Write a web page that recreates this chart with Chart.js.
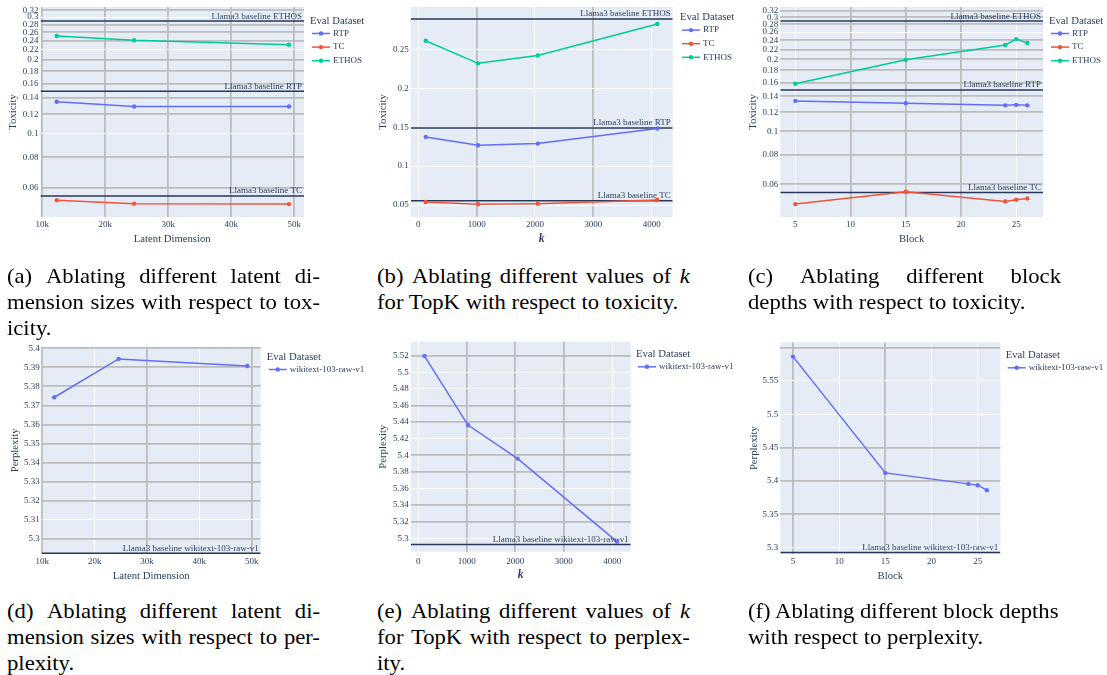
<!DOCTYPE html>
<html><head><meta charset="utf-8">
<script src="https://cdn.jsdelivr.net/npm/chart.js@4.4.1/dist/chart.umd.min.js"></script>
<style>
body{margin:0;background:#fff;}
#wrap{position:relative;width:1107px;height:675px;overflow:hidden;background:#fff;}
canvas{position:absolute;}
.cap{position:absolute;width:299.5px;font-family:'Liberation Serif','Times New Roman',serif;font-size:21.7px;line-height:26px;color:#000;transform:scaleX(1.045);transform-origin:0 0;}
.cap .ln{white-space:nowrap;}
.cap .jl{display:flex;justify-content:space-between;white-space:nowrap;}
</style></head>
<body><div id="wrap"></div>
<script>
// ---------------- data ----------------
const latentDims = [12288, 24576, 49152];
const latentRTP = [0.135, 0.129, 0.129];
const latentTC = [0.0533, 0.0516, 0.0514];
const latentETHOS = [0.251, 0.241, 0.231];

const topKValues = [128, 1024, 2048, 4096];
const topkRTP = [0.1375, 0.1268, 0.1289, 0.1483];
const topkTC = [0.0539, 0.0509, 0.0517, 0.0564];
const topkETHOS = [0.261, 0.232, 0.242, 0.2825];

const blocks = [5, 15, 24, 25, 26];
const blockRTP = [0.134, 0.131, 0.1284, 0.129, 0.1284];
const blockTC = [0.0496, 0.0559, 0.0509, 0.0517, 0.0524];
const blockETHOS = [0.158, 0.199, 0.2296, 0.243, 0.234];

const baselineRTP = 0.149;
const baselineTC = 0.0555;
const baselineETHOS = 0.289;

const latentPerplexity = [5.3743, 5.3944, 5.3907];
const topkPerplexity = [5.5196, 5.4365, 5.396, 5.296];
const blockPerplexity = [5.5866, 5.412, 5.3955, 5.3935, 5.386];
const baselinePerplexity = 5.2925;

// tick values and labels
const latentTicks = [10000, 20000, 30000, 40000, 50000];
const latentTickLabels = ['10k', '20k', '30k', '40k', '50k'];
const kTicks = [0, 1000, 2000, 3000, 4000];
const kTickLabels = ['0', '1000', '2000', '3000', '4000'];
const blockTicks = [5, 10, 15, 20, 25];
const blockTickLabels = ['5', '10', '15', '20', '25'];
const toxLogTicks = [0.06, 0.08, 0.1, 0.12, 0.14, 0.16, 0.18, 0.2, 0.22, 0.24, 0.26, 0.28, 0.3, 0.32];
const toxLogTickLabels = ['0.06', '0.08', '0.1', '0.12', '0.14', '0.16', '0.18', '0.2', '0.22', '0.24', '0.26', '0.28', '0.3', '0.32'];
const toxLinTicks = [0.05, 0.1, 0.15, 0.2, 0.25];
const toxLinTickLabels = ['0.05', '0.1', '0.15', '0.2', '0.25'];
const pplLatentTicks = [5.3, 5.31, 5.32, 5.33, 5.34, 5.35, 5.36, 5.37, 5.38, 5.39, 5.4];
const pplLatentTickLabels = ['5.3', '5.31', '5.32', '5.33', '5.34', '5.35', '5.36', '5.37', '5.38', '5.39', '5.4'];
const pplTopkTicks = [5.3, 5.32, 5.34, 5.36, 5.38, 5.4, 5.42, 5.44, 5.46, 5.48, 5.5, 5.52];
const pplTopkTickLabels = ['5.3', '5.32', '5.34', '5.36', '5.38', '5.4', '5.42', '5.44', '5.46', '5.48', '5.5', '5.52'];
const pplBlockTicks = [5.3, 5.35, 5.4, 5.45, 5.5, 5.55, 5.6];
const pplBlockTickLabels = ['5.3', '5.35', '5.4', '5.45', '5.5', '5.55', ''];

// ---------------- styling / helpers ----------------
const FONT = "'Liberation Serif','Times New Roman',serif";
Chart.defaults.font.family = FONT;
const FONT_COLOR = '#2a3f5f';
const C_RTP = '#636efa', C_TC = '#EF553B', C_ETHOS = '#00cc96';
const GRAY = '#bdbdbd', WHITE = '#ffffff', BASE_COLOR = '#27385a';
const wrap = document.getElementById('wrap');

function isIn(list, v){ return v !== undefined && list.some(g => Math.abs(g - v) < 1e-9); }

function series(label, xs, ys, color){
  return {label, data: xs.map((x, i) => ({x, y: ys[i]})), borderColor: color, backgroundColor: color,
    pointBackgroundColor: color, pointBorderColor: color, pointRadius: 2.2, pointBorderWidth: 0,
    borderWidth: 1.5, tension: 0, order: 0};
}
function baseline(label, y, xmin, xmax){
  return {label, isBaseline: true, data: [{x: xmin, y}, {x: xmax, y}], borderColor: BASE_COLOR,
    backgroundColor: BASE_COLOR, borderWidth: 1.5, pointRadius: 0, order: 5};
}

const bgPlugin = {id: 'plotBg', beforeDraw(chart){
  const {ctx, chartArea: a} = chart; ctx.save(); ctx.fillStyle = '#E5ECF6';
  ctx.fillRect(a.left, a.top, a.right - a.left, a.bottom - a.top); ctx.restore(); }};

const baseLabelPlugin = {id: 'baseLabels', afterDatasetsDraw(chart){
  const {ctx, chartArea: a} = chart; const y = chart.scales.y;
  ctx.save(); ctx.font = '9px ' + FONT; ctx.fillStyle = FONT_COLOR; ctx.textAlign = 'right'; ctx.textBaseline = 'alphabetic';
  chart.data.datasets.forEach(ds => { if (!ds.isBaseline) return;
    const py = y.getPixelForValue(ds.data[0].y); ctx.fillText(ds.label, a.right - 2, py - 2.5); });
  ctx.restore(); }};

const legendPlugin = {id: 'plotlyLegend', afterDraw(chart, args, o){
  const {ctx, chartArea: a} = chart; const x0 = a.right + o.dx;
  ctx.save(); ctx.fillStyle = FONT_COLOR; ctx.textAlign = 'left'; ctx.textBaseline = 'middle';
  ctx.font = '10.7px ' + FONT; ctx.fillText('Eval Dataset', x0, o.titleY);
  ctx.font = '9px ' + FONT;
  let i = 0;
  chart.data.datasets.forEach(ds => { if (ds.isBaseline) return;
    const yy = o.titleY + 12.8 + i * 13.6; i++;
    ctx.strokeStyle = ds.borderColor; ctx.lineWidth = 1.5;
    ctx.beginPath(); ctx.moveTo(x0 + 2, yy); ctx.lineTo(x0 + 20, yy); ctx.stroke();
    ctx.fillStyle = ds.borderColor; ctx.beginPath(); ctx.arc(x0 + 11, yy, 2.2, 0, Math.PI * 2); ctx.fill();
    ctx.fillStyle = FONT_COLOR; ctx.fillText(ds.label, x0 + 23, yy); });
  ctx.restore(); }};

function makeChart(s){
  const cv = document.createElement('canvas');
  cv.width = s.w; cv.height = s.h;
  cv.style.left = s.left + 'px'; cv.style.top = s.top + 'px';
  cv.style.width = s.w + 'px'; cv.style.height = s.h + 'px';
  wrap.appendChild(cv);
  const lh = 10.7 * 1.2;
  const yW = s.plotL - s.left, xH = s.top + s.h - s.plotB;
  const gridOf = gray => ({drawTicks: false,
    color: c => isIn(gray, c.tick && c.tick.value) ? GRAY : WHITE,
    lineWidth: c => isIn(gray, c.tick && c.tick.value) ? 1.8 : 1});
  new Chart(cv, {type: 'line', data: {datasets: s.datasets}, options: {
    responsive: false, devicePixelRatio: 1, animation: false, events: [],
    layout: {padding: {left: 0, top: s.plotT - s.top, right: s.left + s.w - s.plotR, bottom: 0}},
    plugins: {legend: {display: false}, tooltip: {enabled: false}, plotlyLegend: s.legend},
    scales: {
      x: {type: 'linear', min: s.x.min, max: s.x.max, grid: gridOf(s.x.gray), border: {display: false},
        ticks: {padding: s.xTickC - s.plotB - 5.4, font: {size: 9}, color: FONT_COLOR, maxRotation: 0, autoSkip: false,
          callback: (v, i) => s.x.labels[i]},
        afterBuildTicks: sc => { sc.ticks = s.x.ticks.map(v => ({value: v})); },
        afterFit: sc => { sc.height = xH; sc.paddingLeft = 0; sc.paddingRight = 0; sc.paddingTop = 0; sc.paddingBottom = 0; },
        title: {display: true, text: s.x.title, color: FONT_COLOR, font: s.x.titleFont || {size: 10.7},
          padding: {top: 0, bottom: s.top + s.h - s.xTitleC - lh / 2}}},
      y: {type: s.y.type, min: s.y.min, max: s.y.max, grid: gridOf(s.y.gray), border: {display: false},
        ticks: {padding: 2, font: {size: 9}, color: FONT_COLOR, autoSkip: false, callback: (v, i) => s.y.labels[i]},
        afterBuildTicks: sc => { sc.ticks = s.y.ticks.map(v => ({value: v})); },
        afterFit: sc => { sc.width = yW; sc.paddingLeft = 0; sc.paddingRight = 0; sc.paddingTop = 0; sc.paddingBottom = 0; },
        title: {display: true, text: s.y.title, color: FONT_COLOR, font: {size: 10.7},
          padding: {top: s.yTitleX - s.left - lh / 2, bottom: 0}}}
    }}, plugins: [bgPlugin, baseLabelPlugin, legendPlugin]});
}

const kFont = {size: 11.5, style: 'italic', weight: 'bold'};

// (a)
makeChart({left: 0, top: 0, w: 370, h: 250, plotL: 40.5, plotR: 304, plotT: 7, plotB: 217, xTickC: 225, xTitleC: 239.3, yTitleX: 13,
  legend: {dx: 6, titleY: 20.7},
  x: {min: 9714, max: 51540, ticks: latentTicks, labels: latentTickLabels, title: 'Latent Dimension', gray: latentTicks},
  y: {type: 'logarithmic', min: 0.0455, max: 0.33, ticks: toxLogTicks, labels: toxLogTickLabels, title: 'Toxicity',
      gray: [0.06, 0.08, 0.12, 0.14, 0.16, 0.18, 0.2, 0.24, 0.26, 0.28, 0.32]},
  datasets: [series('RTP', latentDims, latentRTP, C_RTP), series('TC', latentDims, latentTC, C_TC), series('ETHOS', latentDims, latentETHOS, C_ETHOS),
    baseline('Llama3 baseline ETHOS', baselineETHOS, 9714, 51540), baseline('Llama3 baseline RTP', baselineRTP, 9714, 51540), baseline('Llama3 baseline TC', baselineTC, 9714, 51540)]});

// (b)
makeChart({left: 370, top: 0, w: 370, h: 250, plotL: 410.7, plotR: 672.7, plotT: 7, plotB: 217, xTickC: 225, xTitleC: 239.3, yTitleX: 383.3,
  legend: {dx: 7.3, titleY: 17.3},
  x: {min: -130, max: 4360, ticks: kTicks, labels: kTickLabels, title: 'k', titleFont: kFont, gray: [1000, 3000]},
  y: {type: 'linear', min: 0.0346, max: 0.3044, ticks: toxLinTicks, labels: toxLinTickLabels, title: 'Toxicity', gray: []},
  datasets: [series('RTP', topKValues, topkRTP, C_RTP), series('TC', topKValues, topkTC, C_TC), series('ETHOS', topKValues, topkETHOS, C_ETHOS),
    baseline('Llama3 baseline ETHOS', baselineETHOS, -130, 4360), baseline('Llama3 baseline RTP', baselineRTP, -130, 4360), baseline('Llama3 baseline TC', baselineTC, -130, 4360)]});

// (c)
makeChart({left: 737, top: 0, w: 370, h: 250, plotL: 780.3, plotR: 1043, plotT: 7, plotB: 217, xTickC: 225, xTitleC: 239.3, yTitleX: 753,
  legend: {dx: 6, titleY: 20.7},
  x: {min: 3.64, max: 27.42, ticks: blockTicks, labels: blockTickLabels, title: 'Block', gray: [10, 15, 20]},
  y: {type: 'logarithmic', min: 0.0438, max: 0.331, ticks: toxLogTicks, labels: toxLogTickLabels, title: 'Toxicity',
      gray: [0.06, 0.08, 0.1, 0.12, 0.14, 0.16, 0.18, 0.2, 0.22, 0.24, 0.28, 0.3, 0.32]},
  datasets: [series('RTP', blocks, blockRTP, C_RTP), series('TC', blocks, blockTC, C_TC), series('ETHOS', blocks, blockETHOS, C_ETHOS),
    baseline('Llama3 baseline ETHOS', baselineETHOS, 3.64, 27.42), baseline('Llama3 baseline RTP', baselineRTP, 3.64, 27.42), baseline('Llama3 baseline TC', baselineTC, 3.64, 27.42)]});

// (d)
makeChart({left: 0, top: 335, w: 370, h: 250, plotL: 41.7, plotR: 260.7, plotT: 346.7, plotB: 554, xTickC: 561.7, xTitleC: 575.7, yTitleX: 15,
  legend: {dx: 6, titleY: 21.7},
  x: {min: 9885, max: 51719, ticks: latentTicks, labels: latentTickLabels, title: 'Latent Dimension', gray: [10000, 30000, 50000]},
  y: {type: 'linear', min: 5.2921, max: 5.4008, ticks: pplLatentTicks, labels: pplLatentTickLabels, title: 'Perplexity',
      gray: [5.3, 5.32, 5.33, 5.34, 5.35, 5.36, 5.37, 5.38, 5.39, 5.4]},
  datasets: [series('wikitext-103-raw-v1', latentDims, latentPerplexity, C_RTP),
    baseline('Llama3 baseline wikitext-103-raw-v1', baselinePerplexity, 9885, 51719)]});

// (e)
makeChart({left: 370, top: 335, w: 370, h: 250, plotL: 410.7, plotR: 630.7, plotT: 341.7, plotB: 551.7, xTickC: 561.7, xTitleC: 575.7, yTitleX: 383.3,
  legend: {dx: 5.3, titleY: 19},
  x: {min: -157, max: 4379, ticks: kTicks, labels: kTickLabels, title: 'k', titleFont: kFont, gray: [1000, 2000, 3000]},
  y: {type: 'linear', min: 5.2839, max: 5.5369, ticks: pplTopkTicks, labels: pplTopkTickLabels, title: 'Perplexity',
      gray: [5.32, 5.34, 5.38, 5.4, 5.44, 5.46, 5.52]},
  datasets: [series('wikitext-103-raw-v1', topKValues, topkPerplexity, C_RTP),
    baseline('Llama3 baseline wikitext-103-raw-v1', baselinePerplexity, -157, 4379)]});

// (f)
makeChart({left: 737, top: 335, w: 370, h: 250, plotL: 780.3, plotR: 1000.3, plotT: 342.3, plotB: 554, xTickC: 562, xTitleC: 575.7, yTitleX: 753.7,
  legend: {dx: 5.4, titleY: 20},
  x: {min: 3.625, max: 27.45, ticks: blockTicks, labels: blockTickLabels, title: 'Block', gray: [5, 15]},
  y: {type: 'linear', min: 5.2902, max: 5.6081, ticks: pplBlockTicks, labels: pplBlockTickLabels, title: 'Perplexity',
      gray: [5.35, 5.4, 5.45, 5.6]},
  datasets: [series('wikitext-103-raw-v1', blocks, blockPerplexity, C_RTP),
    baseline('Llama3 baseline wikitext-103-raw-v1', baselinePerplexity, 3.625, 27.45)]});

// ---------------- captions ----------------
const captions = [
  {x: 6.5, y: 263, lines: [['(a) Ablating different latent di-', true], ['mension sizes with respect to tox-', true], ['icity.', false]]},
  {x: 376.5, y: 263, lines: [['(b) Ablating different values of <i>k</i>', true], ['for TopK with respect to toxicity.', false]]},
  {x: 748, y: 263, lines: [['(c) Ablating different block', true], ['depths with respect to toxicity.', false]]},
  {x: 6.5, y: 598, lines: [['(d) Ablating different latent di-', true], ['mension sizes with respect to per-', true], ['plexity.', false]]},
  {x: 376.5, y: 598, lines: [['(e) Ablating different values of <i>k</i>', true], ['for TopK with respect to perplex-', true], ['ity.', false]]},
  {x: 748, y: 598, lines: [['(f) Ablating different block depths', false], ['with respect to perplexity.', false]]}
];
captions.forEach(c => {
  const d = document.createElement('div'); d.className = 'cap';
  d.style.left = c.x + 'px'; d.style.top = c.y + 'px';
  d.innerHTML = c.lines.map(([t, j]) => j
    ? '<div class="jl">' + t.split(' ').map(w => '<span>' + w + '</span>').join('') + '</div>'
    : '<div class="ln">' + t + '</div>').join('');
  wrap.appendChild(d);
});
</script>
</body></html>
